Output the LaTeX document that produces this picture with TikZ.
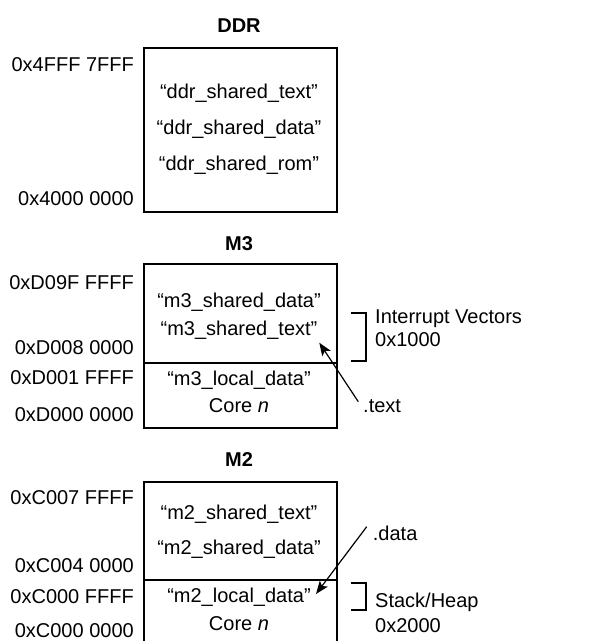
\documentclass[tikz,border=0pt]{standalone}
\usepackage{fontspec}
\setmainfont{Liberation Sans}
\usetikzlibrary{arrows.meta}
\begin{document}
\begin{tikzpicture}[x=1pt,y=-1pt,
  every node/.style={font=\fontsize{20}{24}\selectfont, inner sep=0pt},
  box/.style={draw, line width=2pt, minimum width=193pt, anchor=north west},
  title/.style={font=\fontsize{20}{24}\selectfont\bfseries, anchor=base},
  addr/.style={anchor=base east},
  intext/.style={anchor=base},
  note/.style={anchor=base west},
  brk/.style={line width=2pt},
  ptr/.style={line width=1.2pt, -{Stealth[length=13pt,width=10pt,inset=3pt]}}]
\useasboundingbox (0,0) rectangle (616,641);
\begin{scope}
\clip (0,0) rectangle (616,641);
% DDR
\node[title] (tddr) at (239,32) {DDR};
\node[box, minimum height=163.4pt] (ddr) at (142.7,47.3) {};
\node[intext] (d1) at (239,98) {“ddr\_shared\_text”};
\node[intext] (d2) at (239,134) {“ddr\_shared\_data”};
\node[intext] (d3) at (239,170) {“ddr\_shared\_rom”};
\node[addr] (a1) at (134,71) {0x4FFF 7FFF};
\node[addr] (a2) at (134,205) {0x4000 0000};
% M3
\node[title] (tm3) at (239,250) {M3};
\node[box, minimum height=98.4pt] (m3s) at (142.7,263.3) {};
\node[box, minimum height=65.5pt] (m3l) at (142.7,361.7) {};
\node[intext] (m31) at (239,307) {“m3\_shared\_data”};
\node[intext] (m32) at (239,335) {“m3\_shared\_text”};
\node[intext] (m33) at (239,385) {“m3\_local\_data”};
\node[intext] (m34) at (239,412) {Core \textit{n}};
\node[addr] (b1) at (134,289) {0xD09F FFFF};
\node[addr] (b2) at (134,354) {0xD008 0000};
\node[addr] (b3) at (134,384) {0xD001 FFFF};
\node[addr] (b4) at (134,421) {0xD000 0000};
\coordinate (ib1) at (350.7,313.3);
\coordinate (ib2) at (366,313.3);
\coordinate (ib3) at (366,361);
\coordinate (ib4) at (350.7,361);
\draw[brk] (ib1) -- (ib2) -- (ib3) -- (ib4);
\node[note] (iv) at (375,323) {Interrupt Vectors};
\node[note] (iv2) at (375,346) {0x1000};
\node[note] (txt) at (363,412) {.text};
\coordinate (t0) at (358.3,401.7);
\coordinate (t1) at (319.3,342.7);
\draw[ptr] (t0) -- (t1);
% M2
\node[title] (tm2) at (239,466) {M2};
\node[box, minimum height=97.7pt] (m2s) at (142.7,481) {};
\node[box, minimum height=100pt] (m2l) at (142.7,578.7) {};
\node[intext] (m21) at (239,519) {“m2\_shared\_text”};
\node[intext] (m22) at (239,554) {“m2\_shared\_data”};
\node[intext] (m23) at (239,602) {“m2\_local\_data”};
\node[intext] (m24) at (239,630) {Core \textit{n}};
\node[addr] (c1) at (134,504) {0xC007 FFFF};
\node[addr] (c2) at (134,572) {0xC004 0000};
\node[addr] (c3) at (134,603) {0xC000 FFFF};
\node[addr] (c4) at (134,637) {0xC000 0000};
\coordinate (sb1) at (350.7,583.3);
\coordinate (sb2) at (366,583.3);
\coordinate (sb3) at (366,610);
\coordinate (sb4) at (350.7,610);
\draw[brk] (sb1) -- (sb2) -- (sb3) -- (sb4);
\node[note] (sh) at (375,607) {Stack/Heap};
\node[note] (sh2) at (375,632) {0x2000};
\node[note] (dat) at (372.7,540) {.data};
\coordinate (p0) at (366.7,526.7);
\coordinate (p1) at (316,594);
\draw[ptr] (p0) -- (p1);
\end{scope}
\end{tikzpicture}
\end{document}
